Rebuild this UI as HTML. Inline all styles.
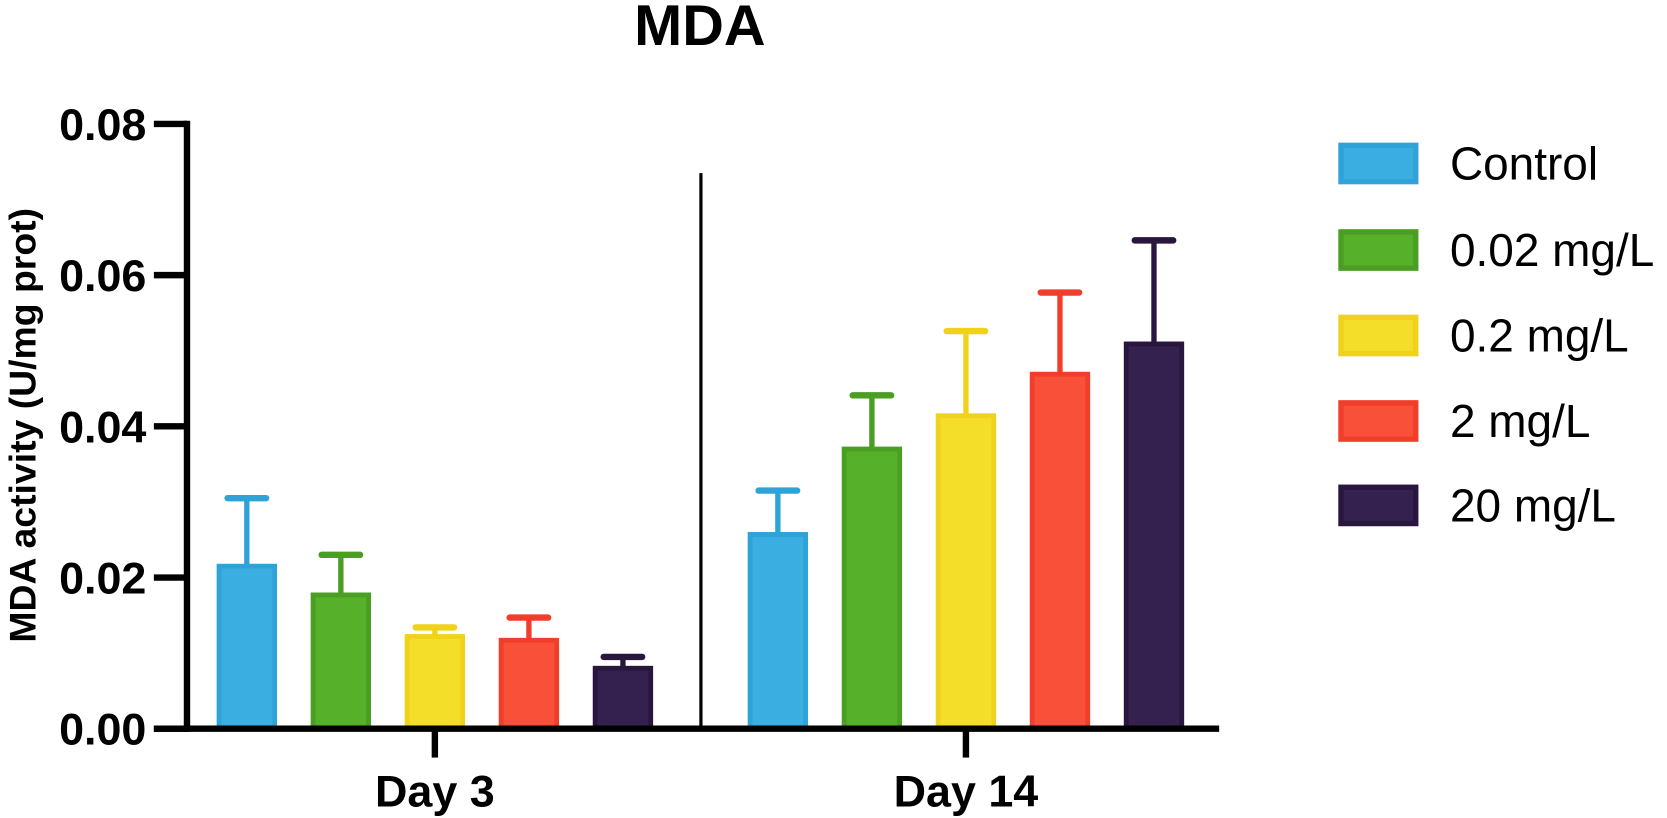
<!DOCTYPE html>
<html><head><meta charset="utf-8"><style>
html,body{margin:0;padding:0;background:#fff;}
svg{display:block;font-family:"Liberation Sans",Arial,sans-serif;}
</style></head><body>
<svg id="chart" width="1667" height="818" viewBox="0 0 1667 818">
<g transform="scale(1.0685)">
<text x="655" y="42" text-anchor="middle" font-size="54" font-weight="bold">MDA</text>
<text transform="translate(33,398) rotate(-90)" text-anchor="middle" font-size="35" font-weight="bold">MDA activity (U/mg prot)</text>
<g id="plot"></g>
<g id="legend"></g>
</g>
</svg>
<script>
const groups = ["Day 3", "Day 14"];
const series = ["Control", "0.02 mg/L", "0.2 mg/L", "2 mg/L", "20 mg/L"];
const day3Values = [0.0215, 0.0177, 0.0122, 0.0117, 0.0080];
const day3Errors = [0.0090, 0.0053, 0.0012, 0.0030, 0.0015];
const day14Values = [0.0257, 0.0370, 0.0414, 0.0469, 0.0509];
const day14Errors = [0.0058, 0.0071, 0.0112, 0.0108, 0.0137];
const yTicks = [0, 0.02, 0.04, 0.06, 0.08];
const yTickLabels = ["0.00", "0.02", "0.04", "0.06", "0.08"];

const fills = ["#3aaee0", "#56b02a", "#f5de2a", "#f9503a", "#35214f"];
const strokes = ["#2fa3d8", "#4a9e22", "#f0d21c", "#f03e2a", "#28163e"];
const NS = "http://www.w3.org/2000/svg";
const plot = document.getElementById("plot");
const legend = document.getElementById("legend");
const y0 = 682, yTop = 116, yMax = 0.08;
function yScale(v){ return y0 - (v / yMax) * (y0 - yTop); }
const groupCenters = [407, 904];
const barW = 56, barStep = 88;
function xScale(g, s){ return groupCenters[g] + (s - 2) * barStep; }
function mk(tag, attrs, parent){
  const el = document.createElementNS(NS, tag);
  for (const k in attrs) el.setAttribute(k, attrs[k]);
  parent.appendChild(el);
  return el;
}
const allVals = [day3Values, day14Values];
const allErrs = [day3Errors, day14Errors];
for (let g = 0; g < groups.length; g++) {
  for (let s = 0; s < series.length; s++) {
    const cx = xScale(g, s);
    const v = allVals[g][s], e = allErrs[g][s];
    const yt = yScale(v), ye = yScale(v + e);
    const eb = mk("line", {x1: cx, x2: cx, y1: yt, y2: ye, stroke: strokes[s], "stroke-width": 5}, plot);
    
    
    const cap = mk("line", {x1: cx - 18, x2: cx + 18, y1: ye, y2: ye, stroke: strokes[s], "stroke-width": 6, "stroke-linecap": "round"}, plot);
    
    
    const r = mk("rect", {x: cx - barW/2 + 2, y: yt, width: barW - 4, height: y0 - yt, fill: fills[s], stroke: strokes[s], "stroke-width": 4.5}, plot);
    
    
  }
  const t = mk("line", {x1: groupCenters[g], x2: groupCenters[g], y1: y0, y2: 709, stroke: "#000", "stroke-width": 6}, plot);
  
  
  const lab = mk("text", {x: groupCenters[g], y: 755, "text-anchor": "middle", "font-size": 42, "font-weight": "bold"}, plot);
  lab.textContent = groups[g];
  
  
}
const ax = mk("line", {x1: 175, x2: 175, y1: 113, y2: 685, stroke: "#000", "stroke-width": 6}, plot);


const bx = mk("line", {x1: 144, x2: 1141, y1: y0, y2: y0, stroke: "#000", "stroke-width": 6}, plot);


const dv = mk("line", {x1: 656, x2: 656, y1: 162, y2: y0, stroke: "#000", "stroke-width": 3}, plot);


for (let i = 0; i < yTicks.length; i++) {
  const y = yScale(yTicks[i]);
  const tk = mk("line", {x1: 144, x2: 175, y1: y, y2: y, stroke: "#000", "stroke-width": 6}, plot);
  
  
  const tl = mk("text", {x: 137, y: y + 15, "text-anchor": "end", "font-size": 42, "font-weight": "bold"}, plot);
  tl.textContent = yTickLabels[i];
  
  
}
const legendY = [153, 234, 314, 394, 473];
for (let s = 0; s < series.length; s++) {
  const sw = mk("rect", {x: 1255, y: legendY[s] - 17, width: 70, height: 34, fill: fills[s], stroke: strokes[s], "stroke-width": 5}, legend);
  
  
  const lt = mk("text", {x: 1357, y: legendY[s] + 15, "font-size": 43}, legend);
  lt.textContent = series[s];
  
  
}
</script>
</body></html>
